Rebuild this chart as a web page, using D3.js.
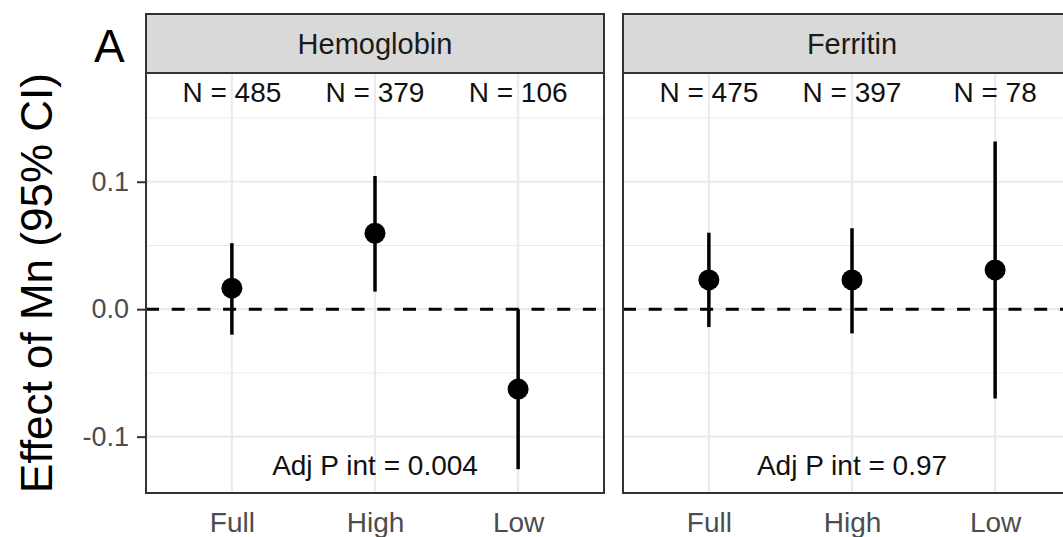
<!DOCTYPE html>
<html>
<head>
<meta charset="utf-8">
<script src="https://cdn.jsdelivr.net/npm/d3@7"></script>
<style>
  html, body { margin: 0; padding: 0; background: #ffffff; overflow: hidden; }
  svg { display: block; font-family: "Liberation Sans", Arial, Helvetica, sans-serif; }
</style>
</head>
<body>
<svg id="chart" width="1063" height="537"></svg>
<script>
// Facets and groups
const panels = ["Hemoglobin", "Ferritin"];
const groups = ["Full", "High", "Low"];

// Hemoglobin: estimate and 95% CI per group
const hemoEst = [0.0165, 0.0596, -0.0627];
const hemoLo  = [-0.0200, 0.0138, -0.1255];
const hemoHi  = [0.0518, 0.1045, 0.0000];
const hemoN   = [485, 379, 106];

// Ferritin: estimate and 95% CI per group
const ferrEst = [0.0230, 0.0230, 0.0308];
const ferrLo  = [-0.0140, -0.0190, -0.0700];
const ferrHi  = [0.0600, 0.0635, 0.1315];
const ferrN   = [475, 397, 78];

// Interaction p-values per facet
const pInt = ["0.004", "0.97"];

// Axis ticks
const yMajor = [-0.1, 0.0, 0.1];
const yMinor = [-0.05, 0.05, 0.15];
const yTickLabels = ["-0.1", "0.0", "0.1"];

const panelData = [
  { name: panels[0], est: hemoEst, lo: hemoLo, hi: hemoHi, n: hemoN, p: pInt[0] },
  { name: panels[1], est: ferrEst, lo: ferrLo, hi: ferrHi, n: ferrN, p: pInt[1] }
];

// Layout
const svg = d3.select("#chart");
const panelTop = 73, panelBottom = 493, stripTop = 14;
const panelW = 458, panelGap = 19, panelLeft0 = 146;

const y = d3.scaleLinear().domain([-0.1442, 0.1853]).range([panelBottom, panelTop]);

const border = "#333333";
const gridCol = "#ebebeb";

panelData.forEach((pd, i) => {
  const x0 = panelLeft0 + i * (panelW + panelGap);
  const x = d3.scalePoint().domain(groups).range([x0, x0 + panelW]).padding(0.6);
  const g = svg.append("g");

  // panel background
  g.append("rect").attr("x", x0).attr("y", panelTop)
    .attr("width", panelW).attr("height", panelBottom - panelTop)
    .attr("fill", "#ffffff");

  // minor gridlines
  g.selectAll(".minor").data(yMinor).join("line")
    .attr("x1", x0).attr("x2", x0 + panelW)
    .attr("y1", d => y(d)).attr("y2", d => y(d))
    .attr("stroke", gridCol).attr("stroke-width", 1.1);

  // major gridlines
  g.selectAll(".majorY").data(yMajor).join("line")
    .attr("x1", x0).attr("x2", x0 + panelW)
    .attr("y1", d => y(d)).attr("y2", d => y(d))
    .attr("stroke", gridCol).attr("stroke-width", 2.2);
  g.selectAll(".majorX").data(groups).join("line")
    .attr("x1", d => x(d)).attr("x2", d => x(d))
    .attr("y1", panelTop).attr("y2", panelBottom)
    .attr("stroke", gridCol).attr("stroke-width", 2.2);

  // reference line at zero
  g.append("line")
    .attr("x1", x0).attr("x2", x0 + panelW)
    .attr("y1", y(0)).attr("y2", y(0))
    .attr("stroke", "#000").attr("stroke-width", 3)
    .attr("stroke-dasharray", "13,12.7");

  // confidence intervals
  g.selectAll(".ci").data(groups).join("line")
    .attr("x1", d => x(d)).attr("x2", d => x(d))
    .attr("y1", (d, k) => y(pd.lo[k])).attr("y2", (d, k) => y(pd.hi[k]))
    .attr("stroke", "#000").attr("stroke-width", 3.5);

  // point estimates
  g.selectAll(".pt").data(groups).join("circle")
    .attr("cx", d => x(d)).attr("cy", (d, k) => y(pd.est[k]))
    .attr("r", 10.5).attr("fill", "#000");

  // sample sizes
  g.selectAll(".nlab").data(groups).join("text")
    .attr("x", d => x(d)).attr("y", y(0.17)).attr("dy", "0.35em")
    .attr("text-anchor", "middle").attr("font-size", 28).attr("fill", "#111")
    .text((d, k) => "N = " + pd.n[k]);

  // interaction p-value
  g.append("text")
    .attr("x", x(groups[1])).attr("y", y(-0.122)).attr("dy", "0.35em")
    .attr("text-anchor", "middle").attr("font-size", 28).attr("fill", "#111")
    .text("Adj P int = " + pd.p);

  // panel border
  g.append("rect").attr("x", x0).attr("y", panelTop)
    .attr("width", panelW).attr("height", panelBottom - panelTop)
    .attr("fill", "none").attr("stroke", border).attr("stroke-width", 2);

  // strip
  g.append("rect").attr("x", x0).attr("y", stripTop)
    .attr("width", panelW).attr("height", panelTop - stripTop)
    .attr("fill", "#d9d9d9").attr("stroke", border).attr("stroke-width", 2);
  g.append("text")
    .attr("x", x0 + panelW / 2).attr("y", (stripTop + panelTop) / 2).attr("dy", "0.35em")
    .attr("text-anchor", "middle").attr("font-size", 29).attr("fill", "#1a1a1a")
    .text(pd.name);

  // x axis labels
  const xAxis = d3.axisBottom(x).tickSize(0).tickPadding(19);
  const xa = svg.append("g").attr("transform", `translate(0,${panelBottom})`).call(xAxis);
  xa.select(".domain").remove();
  xa.selectAll("text").attr("font-size", 28).attr("fill", "#4d4d4d")
    .attr("font-family", "Liberation Sans, Arial, sans-serif");

  // y axis on the first panel only
  if (i === 0) {
    const yAxis = d3.axisLeft(y).tickValues(yMajor)
      .tickFormat((d, k) => yTickLabels[k]).tickSize(9).tickPadding(8);
    const ya = svg.append("g").attr("transform", `translate(${x0},0)`).call(yAxis);
    ya.select(".domain").remove();
    ya.selectAll(".tick line").attr("stroke", border).attr("stroke-width", 2);
    ya.selectAll("text").attr("font-size", 27).attr("fill", "#4d4d4d")
      .attr("font-family", "Liberation Sans, Arial, sans-serif");
  }
});

// y axis title
svg.append("text")
  .attr("transform", `translate(52,${(panelTop + panelBottom) / 2}) rotate(-90)`)
  .attr("text-anchor", "middle").attr("font-size", 44).attr("fill", "#000")
  .text("Effect of Mn (95% CI)");

// figure tag
svg.append("text")
  .attr("x", 94).attr("y", 62)
  .attr("font-size", 46).attr("fill", "#000")
  .text("A");
</script>
</body>
</html>
